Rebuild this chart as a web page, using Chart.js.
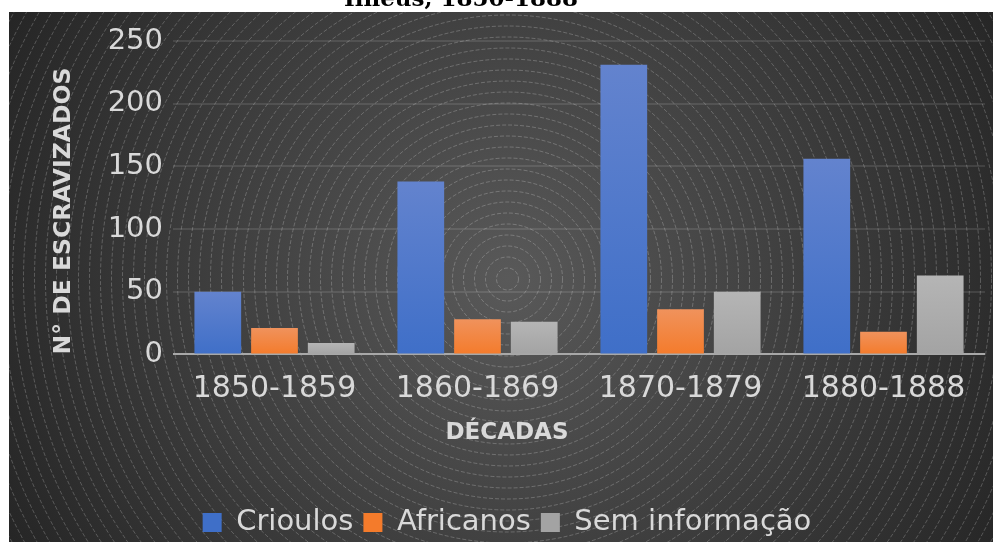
<!DOCTYPE html>
<html>
<head>
<meta charset="utf-8">
<script src="https://cdn.jsdelivr.net/npm/chart.js@4.4.1/dist/chart.umd.min.js"></script>
<style>
  html, body { margin: 0; padding: 0; background: #fff; }
</style>
</head>
<body>
<canvas id="grafico" width="993" height="542"></canvas>
<script>
// dados
const decadas = ['1850-1859', '1860-1869', '1870-1879', '1880-1888'];
const crioulos = [50, 138, 231, 156];
const africanos = [21, 28, 36, 18];
const semInformacao = [9, 26, 50, 63];
const yMax = 250;
const yPasso = 50;

const corTexto = '#d9d9d9';
const fonte = 'DejaVu Sans';

// degradê vertical em cada barra (mais claro no topo)
function preenchimento(topo, base) {
    return ctx => {
        const chart = ctx.chart;
        if (!chart.chartArea || ctx.raw === undefined || !chart.scales.y) return base;
        const y = chart.scales.y;
        const y0 = y.getPixelForValue(ctx.raw);
        const y1 = y.getPixelForValue(0);
        if (y1 - y0 < 1) return base;
        const g = chart.ctx.createLinearGradient(0, y0, 0, y1);
        g.addColorStop(0, topo);
        g.addColorStop(1, base);
        return g;
    };
}

// fundo escuro com círculos concêntricos + título cortado no topo
const fundo = {
    id: 'fundo',
    beforeDraw(chart) {
        const c = chart.ctx;
        const x0 = 9, y0 = 12;
        const w = chart.width - x0, h = chart.height - y0;
        const cx = chart.width / 2 + 11, cy = chart.height / 2 + 8;
        c.save();
        const g = c.createRadialGradient(cx, cy, 0, cx, cy, 560);
        g.addColorStop(0, '#595959');
        g.addColorStop(1, '#262626');
        c.fillStyle = g;
        c.fillRect(x0, y0, w, h);
        c.beginPath();
        c.rect(x0, y0, w, h);
        c.clip();
        c.strokeStyle = 'rgba(255,255,255,0.22)';
        c.lineWidth = 1;
        c.setLineDash([4, 2]);
        for (let r = 11; r < 640; r += 11) {
            c.beginPath();
            c.arc(cx, cy, r, 0, Math.PI * 2);
            c.stroke();
        }
        c.restore();

        c.save();
        c.fillStyle = '#000';
        c.font = 'bold 23px "DejaVu Serif"';
        c.textAlign = 'center';
        c.textBaseline = 'alphabetic';
        c.fillText('Ilhéus, 1850-1888', 461, 6);
        c.restore();
    }
};

new Chart(document.getElementById('grafico'), {
    type: 'bar',
    data: {
        labels: decadas,
        datasets: [
            { label: 'Crioulos', data: crioulos, backgroundColor: preenchimento('#6383ce', '#3f6fc8') },
            { label: 'Africanos', data: africanos, backgroundColor: preenchimento('#f0925c', '#f47b2b') },
            { label: 'Sem informação', data: semInformacao, backgroundColor: preenchimento('#b5b5b5', '#a3a3a3') }
        ]
    },
    options: {
        responsive: false,
        animation: false,
        layout: { padding: { left: 29, right: 8, top: 41, bottom: -5 } },
        datasets: { bar: { categoryPercentage: 0.838, barPercentage: 0.824 } },
        scales: {
            x: {
                grid: { display: false },
                border: { display: false },
                ticks: { color: corTexto, font: { family: fonte, size: 30 }, padding: 9, maxRotation: 0 },
                afterFit(s) { s.height = 44; }
            },
            y: {
                min: 0,
                max: yMax,
                ticks: { stepSize: yPasso, color: corTexto, font: { family: fonte, size: 29 }, padding: 10 },
                grid: {
                    drawTicks: false,
                    lineWidth: 2,
                    color: ctx => ctx.tick && ctx.tick.value === 0 ? '#a8a8a8' : 'rgba(255,255,255,0.1)'
                },
                border: { display: false },
                title: {
                    display: true,
                    align: 'start',
                    text: 'N° DE ESCRAVIZADOS',
                    color: corTexto,
                    font: { family: fonte, size: 23.5, weight: 'bold' },
                    padding: { top: 21, bottom: 0 }
                },
                afterFit(s) { s.width = 144; }
            }
        },
        plugins: {
            legend: {
                position: 'bottom',
                labels: {
                    boxWidth: 19,
                    boxHeight: 19,
                    padding: 10,
                    color: corTexto,
                    font: { family: fonte, size: 29 }
                }
            },
            subtitle: {
                display: true,
                position: 'bottom',
                weight: 500,
                text: 'DÉCADAS',
                color: corTexto,
                font: { family: fonte, size: 23, weight: 'bold' },
                padding: { top: 21, bottom: 51 }
            },
            tooltip: { enabled: false }
        }
    },
    plugins: [fundo]
});
</script>
</body>
</html>
